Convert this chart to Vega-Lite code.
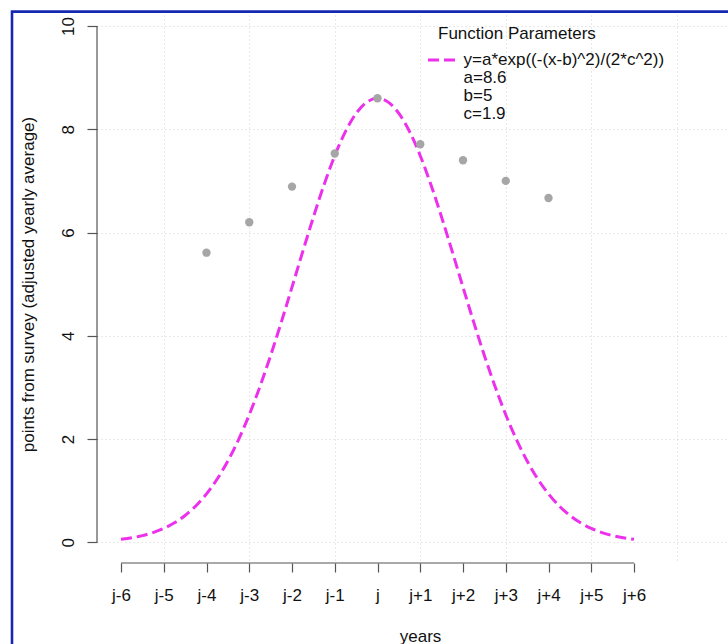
{
  "$schema": "https://vega.github.io/schema/vega-lite/v6.json",
  "width": 631,
  "height": 548,
  "autosize": {"type": "none"},
  "padding": {"left": 97, "top": 15, "right": 0, "bottom": 81},
  "background": "white",
  "config": {
    "view": {"stroke": null},
    "font": "Liberation Sans"
  },
  "datasets": {
    "survey": [
      {"year": 1, "points": 5.61},
      {"year": 2, "points": 6.2},
      {"year": 3, "points": 6.89},
      {"year": 4, "points": 7.53},
      {"year": 5, "points": 8.6},
      {"year": 6, "points": 7.71},
      {"year": 7, "points": 7.4},
      {"year": 8, "points": 7.0},
      {"year": 9, "points": 6.67}
    ],
    "gaussian": [
      {"x": -1, "y": 0.0587}, {"x": -0.75, "y": 0.0882}, {"x": -0.5, "y": 0.1303}, {"x": -0.25, "y": 0.189},
      {"x": 0, "y": 0.2696}, {"x": 0.25, "y": 0.3779}, {"x": 0.5, "y": 0.5205}, {"x": 0.75, "y": 0.7047},
      {"x": 1, "y": 0.9377}, {"x": 1.25, "y": 1.2264}, {"x": 1.5, "y": 1.5763}, {"x": 1.75, "y": 1.9913},
      {"x": 2, "y": 2.4725}, {"x": 2.25, "y": 3.0172}, {"x": 2.5, "y": 3.6187}, {"x": 2.75, "y": 4.2656},
      {"x": 3, "y": 4.9419}, {"x": 3.25, "y": 5.6271}, {"x": 3.5, "y": 6.2973}, {"x": 3.75, "y": 6.9265},
      {"x": 4, "y": 7.4877}, {"x": 4.25, "y": 7.9554}, {"x": 4.5, "y": 8.3073}, {"x": 4.75, "y": 8.5259},
      {"x": 5, "y": 8.6},
      {"x": 5.25, "y": 8.5259}, {"x": 5.5, "y": 8.3073}, {"x": 5.75, "y": 7.9554}, {"x": 6, "y": 7.4877},
      {"x": 6.25, "y": 6.9265}, {"x": 6.5, "y": 6.2973}, {"x": 6.75, "y": 5.6271}, {"x": 7, "y": 4.9419},
      {"x": 7.25, "y": 4.2656}, {"x": 7.5, "y": 3.6187}, {"x": 7.75, "y": 3.0172}, {"x": 8, "y": 2.4725},
      {"x": 8.25, "y": 1.9913}, {"x": 8.5, "y": 1.5763}, {"x": 8.75, "y": 1.2264}, {"x": 9, "y": 0.9377},
      {"x": 9.25, "y": 0.7047}, {"x": 9.5, "y": 0.5205}, {"x": 9.75, "y": 0.3779}, {"x": 10, "y": 0.2696},
      {"x": 10.25, "y": 0.189}, {"x": 10.5, "y": 0.1303}, {"x": 10.75, "y": 0.0882}, {"x": 11, "y": 0.0587}
    ]
  },
  "layer": [
    {
      "data": {"name": "gaussian"},
      "mark": {"type": "line", "strokeWidth": 3, "strokeDash": [11, 5], "strokeCap": "butt", "interpolate": "monotone"},
      "encoding": {
        "x": {
          "field": "x",
          "type": "quantitative",
          "scale": {"domain": [-1.5614, 13.1988], "nice": false, "zero": false},
          "axis": {
            "title": "years",
            "values": [-1, 0, 1, 2, 3, 4, 5, 6, 7, 8, 9, 10, 11, 12],
            "labelExpr": "datum.value > 11 ? '' : (datum.value == 5 ? 'j' : (datum.value < 5 ? 'j-' + (5 - datum.value) : 'j+' + (datum.value - 5)))",
            "domain": false,
            "tickSize": 9,
            "tickColor": "#555555",
            "tickWidth": 1.2,
            "tickOpacity": {"condition": {"test": "datum.value > 11", "value": 0}, "value": 1},
            "grid": true,
            "gridColor": "#d2d2d2",
            "gridDash": [1, 3],
            "gridOpacity": {"condition": {"test": "datum.value % 2 === 0", "value": 1}, "value": 0},
            "labelFontSize": 17,
            "labelColor": "#111111",
            "labelPadding": 15,
            "labelFlush": false,
            "labelOverlap": false,
            "titleFontSize": 17,
            "titleFontWeight": "normal",
            "titleColor": "#111111",
            "titleX": 323,
            "titleY": 78,
            "titleAlign": "center",
            "titleBaseline": "alphabetic"
          }
        },
        "y": {
          "field": "y",
          "type": "quantitative",
          "scale": {"domain": [-0.4, 10.2132], "nice": false, "zero": false},
          "axis": {
            "title": "points from survey (adjusted yearly average)",
            "values": [0, 2, 4, 6, 8, 10],
            "domain": false,
            "tickSize": 10,
            "tickColor": "#555555",
            "tickWidth": 1.2,
            "grid": true,
            "gridColor": "#d2d2d2",
            "gridDash": [1, 3],
            "labelAngle": 270,
            "labelAlign": "center",
            "labelBaseline": "bottom",
            "labelPadding": 10,
            "labelFontSize": 17,
            "labelColor": "#111111",
            "labelFlush": false,
            "labelOverlap": false,
            "titleFontSize": 17,
            "titleFontWeight": "normal",
            "titleColor": "#111111",
            "titleAngle": 270,
            "titleX": -64,
            "titleY": 269,
            "titleAlign": "center",
            "titleBaseline": "alphabetic"
          }
        },
        "color": {
          "datum": "y=a*exp((-(x-b)^2)/(2*c^2))",
          "type": "nominal",
          "scale": {
            "domain": ["y=a*exp((-(x-b)^2)/(2*c^2))", "a=8.6", "b=5", "c=1.9"],
            "range": ["#ec30ec", "rgba(0,0,0,0)", "rgba(0,0,0,0)", "rgba(0,0,0,0)"]
          },
          "legend": {
            "title": "Function Parameters",
            "orient": "none",
            "legendX": 331,
            "legendY": 11,
            "padding": 0,
            "titleFontSize": 17,
            "titleFontWeight": "normal",
            "titleColor": "#111111",
            "titlePadding": 8,
            "titleAnchor": "start",
            "labelFontSize": 17,
            "labelColor": "#111111",
            "labelOffset": 7,
            "symbolType": "stroke",
            "symbolSize": 729,
            "symbolStrokeWidth": 3,
            "symbolDash": [11, 5],
            "symbolOffset": -1.5,
            "clipHeight": 18,
            "rowPadding": 0,
            "labelLimit": 400,
            "encode": {"title": {"update": {"dx": {"value": 10}}}}
          }
        }
      }
    },
    {
      "data": {"name": "survey"},
      "mark": {"type": "circle", "size": 70, "color": "#a6a6a6", "opacity": 1},
      "encoding": {
        "x": {"field": "year", "type": "quantitative"},
        "y": {"field": "points", "type": "quantitative"}
      }
    },
    {
      "data": {"values": [{}]},
      "mark": {"type": "rule", "color": "#555555", "strokeWidth": 1.2},
      "encoding": {
        "x": {"datum": -1, "type": "quantitative"},
        "x2": {"datum": 11},
        "y": {"datum": -0.4, "type": "quantitative"}
      }
    },
    {
      "data": {"values": [{}]},
      "mark": {"type": "rule", "color": "#555555", "strokeWidth": 1.2},
      "encoding": {
        "x": {"datum": -1.5614, "type": "quantitative"},
        "y": {"datum": 0, "type": "quantitative"},
        "y2": {"datum": 10}
      }
    },
    {
      "data": {"values": [{}]},
      "mark": {"type": "rect", "fill": null, "fillOpacity": 0, "stroke": "#1428b0", "strokeWidth": 2.6, "clip": false},
      "encoding": {
        "x": {"datum": -3.5497, "type": "quantitative"},
        "x2": {"datum": 20},
        "y": {"datum": 10.278, "type": "quantitative"},
        "y2": {"datum": -3}
      }
    }
  ]
}
